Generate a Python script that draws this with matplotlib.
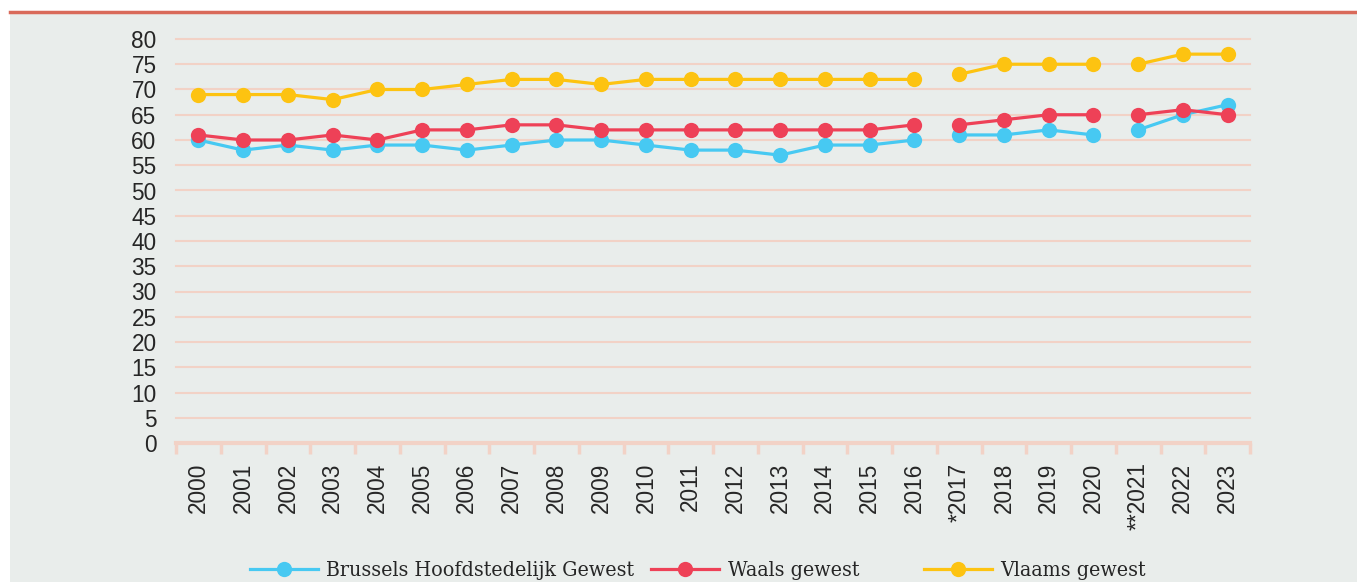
import matplotlib
matplotlib.use("Agg")
import matplotlib.pyplot as plt
from matplotlib.patches import Rectangle
from matplotlib.lines import Line2D

years = ["2000", "2001", "2002", "2003", "2004", "2005", "2006", "2007", "2008", "2009",
         "2010", "2011", "2012", "2013", "2014", "2015", "2016", "*2017", "2018", "2019",
         "2020", "**2021", "2022", "2023"]
brussels = [60, 58, 59, 58, 59, 59, 58, 59, 60, 60, 59, 58, 58, 57, 59, 59, 60,
            61, 61, 62, 61, 62, 65, 67]
waals = [61, 60, 60, 61, 60, 62, 62, 63, 63, 62, 62, 62, 62, 62, 62, 62, 63,
         63, 64, 65, 65, 65, 66, 65]
vlaams = [69, 69, 69, 68, 70, 70, 71, 72, 72, 71, 72, 72, 72, 72, 72, 72, 72,
          73, 75, 75, 75, 75, 77, 77]
series_names = ["Brussels Hoofdstedelijk Gewest", "Waals gewest", "Vlaams gewest"]
segments = [(0, 17), (17, 21), (21, 24)]  # breaks in the series

colors = ["#47c9f2", "#ee4157", "#fdc311"]
bg = "#e9edeb"
grid_c = "#f2d2c6"

W, H = 1357, 582
fig = plt.figure(figsize=(W / 100, H / 100), dpi=100)
fig.patch.set_facecolor("white")
fig.patches.append(Rectangle((10 / W, 0), 1 - 10 / W, (H - 12) / H,
                             transform=fig.transFigure, facecolor=bg, edgecolor="none", zorder=-5))
fig.lines.append(Line2D([10 / W, 1], [(H - 11.5) / H] * 2, transform=fig.transFigure,
                        color="#d96a5a", lw=2.5, zorder=-4))

ax = fig.add_axes([176 / W, (H - 443) / H, (1250 - 176) / W, (443 - 39) / H])
ax.set_facecolor("none")
ax.set_zorder(1)

x = list(range(len(years)))
for vals, c in zip([brussels, waals, vlaams], colors):
    for a, b in segments:
        ax.plot(x[a:b], vals[a:b], color=c, lw=2.3, marker="o", markersize=11,
                markeredgewidth=0, zorder=3, solid_capstyle="round")

ax.set_xlim(-0.5, len(years) - 0.5)
ax.set_ylim(0, 80)
ax.set_yticks(range(0, 81, 5))
ax.yaxis.grid(True, color=grid_c, lw=1.5, clip_on=False)
ax.set_axisbelow(True)
for s in ["left", "right", "top"]:
    ax.spines[s].set_visible(False)
ax.spines["bottom"].set_color(grid_c)
ax.spines["bottom"].set_linewidth(3)

ax.set_xticks(x)
ax.set_xticklabels(years, rotation=90, va="top", ha="center")
ax.set_xticks([i - 0.5 for i in range(len(years) + 1)], minor=True)
ax.tick_params(axis="x", which="major", length=0, pad=14, labelsize=16.3, labelcolor="#262626")
ax.tick_params(axis="x", which="minor", length=8, width=2.5, color=grid_c, direction="out")
ax.tick_params(axis="y", length=0, pad=14, labelsize=16.3, labelcolor="#262626")
for lab in ax.get_xticklabels() + ax.get_yticklabels():
    lab.set_fontfamily("Liberation Sans")

# legend entries
handle_x = [250, 651, 924]
for name, c, hx in zip(series_names, colors, handle_x):
    h = Line2D([], [], color=c, lw=2.3, marker="o", markersize=11, markeredgewidth=0)
    leg = fig.legend([h], [name], loc="center left",
                     bbox_to_anchor=(hx / W, (H - 571) / H), frameon=False,
                     handlelength=3.2, handletextpad=0.4, borderpad=0, borderaxespad=0,
                     prop={"family": "DejaVu Serif", "stretch": "condensed", "size": 15.3})
    for t in leg.get_texts():
        t.set_color("#262626")

fig.savefig("out.png", dpi=100)
